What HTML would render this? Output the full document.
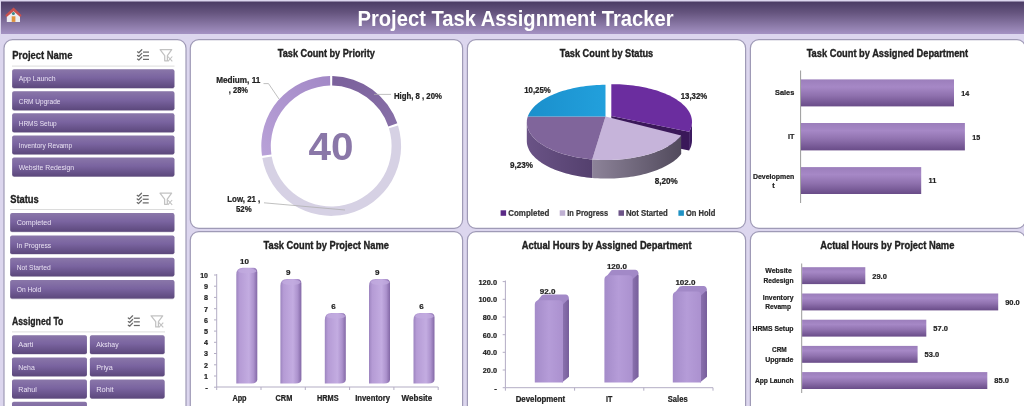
<!DOCTYPE html>
<html><head><meta charset="utf-8"><title>Project Task Assignment Tracker</title>
<style>html,body{margin:0;padding:0;background:#dcd6ee;overflow:hidden;width:1024px;height:406px;position:relative}svg{display:block}</style></head>
<body><svg style="filter:blur(0.5px);position:absolute;left:-8px;top:-8px" width="1040" height="422" viewBox="-8 -8 1040 422">
<defs>
<linearGradient id="hdr" x1="0" y1="0" x2="0" y2="1"><stop offset="0" stop-color="#4a3b64"/><stop offset="0.35" stop-color="#66557f"/><stop offset="1" stop-color="#a492c3"/></linearGradient>
<linearGradient id="btn" x1="0" y1="0" x2="0" y2="1"><stop offset="0" stop-color="#8a77a9"/><stop offset="0.45" stop-color="#7a64a0"/><stop offset="1" stop-color="#5c487c"/></linearGradient>
<linearGradient id="hbar" x1="0" y1="0" x2="0" y2="1"><stop offset="0" stop-color="#9b7ebb"/><stop offset="0.28" stop-color="#a688c6"/><stop offset="0.6" stop-color="#8f71ae"/><stop offset="1" stop-color="#694c88"/></linearGradient>
<linearGradient id="cyl" x1="0" y1="0" x2="1" y2="0"><stop offset="0" stop-color="#9c84bf"/><stop offset="0.15" stop-color="#b59bd5"/><stop offset="0.6" stop-color="#c3ace1"/><stop offset="0.82" stop-color="#ac92cd"/><stop offset="1" stop-color="#8368a6"/></linearGradient>
<linearGradient id="boxf" x1="0" y1="0" x2="1" y2="0"><stop offset="0" stop-color="#a48bc9"/><stop offset="0.5" stop-color="#b59cd8"/><stop offset="1" stop-color="#ab91cf"/></linearGradient>
<linearGradient id="boxs" x1="0" y1="0" x2="1" y2="0"><stop offset="0" stop-color="#8d74b1"/><stop offset="1" stop-color="#775e9b"/></linearGradient>
<linearGradient id="wallNS" x1="0" y1="0" x2="1" y2="0"><stop offset="0" stop-color="#6a5386"/><stop offset="1" stop-color="#54406e"/></linearGradient>
<linearGradient id="wallIP" x1="0" y1="0" x2="1" y2="0"><stop offset="0" stop-color="#8d8399"/><stop offset="1" stop-color="#514a5c"/></linearGradient>
<linearGradient id="blue" x1="0" y1="0" x2="1" y2="0"><stop offset="0" stop-color="#1a8fcc"/><stop offset="1" stop-color="#22a0dc"/></linearGradient>
<linearGradient id="dHigh" x1="0" y1="0" x2="1" y2="1"><stop offset="0" stop-color="#7a609b"/><stop offset="1" stop-color="#8870a8"/></linearGradient>
<linearGradient id="dMed" x1="0" y1="1" x2="1" y2="0"><stop offset="0" stop-color="#b9a2d8"/><stop offset="1" stop-color="#a288c6"/></linearGradient>
</defs>
<rect x="-10" y="-10" width="1044" height="426" fill="#dcd6ee"/>
<rect x="1" y="1.5" width="1044" height="32.5" fill="url(#hdr)"/>
<text x="515.50" y="25.70" font-family="Liberation Sans, sans-serif" font-size="21.5" font-weight="bold" fill="#ffffff" text-anchor="middle" textLength="316.00" lengthAdjust="spacingAndGlyphs" >Project Task Assignment Tracker</text>
<g>
<path d="M6.8 15.3 L13.6 9.3 L20 15.3 V21.9 H6.8 Z" fill="#ececf0"/>
<path d="M5.2 15.3 L13.6 7.4 L21.6 15.3 L20.2 17.1 L13.6 11.3 L6.7 17.1 Z" fill="#c9514d"/>
<rect x="11.7" y="16.3" width="3.7" height="5.6" fill="#e0913c"/>
<circle cx="13.4" cy="13.4" r="1.5" fill="#3b8888"/>
</g>
<rect x="4" y="39.7" width="182" height="380.3" rx="8.5" ry="8.5" fill="#ffffff" stroke="#9f9ab6" stroke-width="1.2"/>
<rect x="190.3" y="39.7" width="272.3" height="188.60000000000002" rx="8.5" ry="8.5" fill="#ffffff" stroke="#9f9ab6" stroke-width="1.2"/>
<rect x="467.4" y="39.7" width="278.20000000000005" height="188.60000000000002" rx="8.5" ry="8.5" fill="#ffffff" stroke="#9f9ab6" stroke-width="1.2"/>
<rect x="750.4" y="39.7" width="275.1" height="188.60000000000002" rx="8.5" ry="8.5" fill="#ffffff" stroke="#9f9ab6" stroke-width="1.2"/>
<rect x="190.3" y="231.7" width="272.3" height="188.3" rx="8.5" ry="8.5" fill="#ffffff" stroke="#9f9ab6" stroke-width="1.2"/>
<rect x="467.4" y="231.7" width="278.20000000000005" height="188.3" rx="8.5" ry="8.5" fill="#ffffff" stroke="#9f9ab6" stroke-width="1.2"/>
<rect x="750.4" y="231.7" width="275.1" height="188.3" rx="8.5" ry="8.5" fill="#ffffff" stroke="#9f9ab6" stroke-width="1.2"/>
<text x="12.20" y="59.00" font-family="Liberation Sans, sans-serif" font-size="10.2" font-weight="bold" fill="#222" text-anchor="start" textLength="60.20" lengthAdjust="spacingAndGlyphs" stroke="#222" stroke-width="0.3">Project Name</text>
<path d="M12 66.1 H174.5" stroke="#dcdcdc" stroke-width="1"/>
<path d="M137.50 51.80 l1.3 1.0 l3.0 -3.1" fill="none" stroke="#6a6a6a" stroke-width="1.25" stroke-linecap="round" stroke-linejoin="round"/>
<path d="M143.00 52.10 h6" fill="none" stroke="#6a6a6a" stroke-width="1.25"/>
<path d="M137.50 55.45 l1.3 1.0 l3.0 -3.1" fill="none" stroke="#6a6a6a" stroke-width="1.25" stroke-linecap="round" stroke-linejoin="round"/>
<path d="M143.00 55.75 h6" fill="none" stroke="#6a6a6a" stroke-width="1.25"/>
<path d="M137.50 59.10 l1.3 1.0 l3.0 -3.1" fill="none" stroke="#6a6a6a" stroke-width="1.25" stroke-linecap="round" stroke-linejoin="round"/>
<path d="M143.00 59.40 h6" fill="none" stroke="#6a6a6a" stroke-width="1.25"/>
<path d="M160.10 49.70 h11.6 l-4.3 5.9 v5.2 h-2.7 v-5.2 Z" fill="none" stroke="#c2c2c2" stroke-width="1.25" stroke-linejoin="round"/>
<path d="M167.90 56.50 l4.4 4.8 m0 -4.8 l-4.4 4.8" fill="none" stroke="#c2c2c2" stroke-width="1.1"/>
<rect x="12.2" y="69.8" width="162.20000000000002" height="18.89999999999999" rx="1.8" fill="#4b3a66" opacity="0.35"/>
<rect x="12.2" y="69.2" width="162.20000000000002" height="18.89999999999999" rx="1.8" fill="url(#btn)"/>
<text x="18.70" y="81.45" font-family="Liberation Sans, sans-serif" font-size="7.2" font-weight="normal" fill="#e9e2f3" text-anchor="start" textLength="36.80" lengthAdjust="spacingAndGlyphs" >App Launch</text>
<rect x="12.2" y="91.87" width="162.20000000000002" height="18.900000000000006" rx="1.8" fill="#4b3a66" opacity="0.35"/>
<rect x="12.2" y="91.27000000000001" width="162.20000000000002" height="18.900000000000006" rx="1.8" fill="url(#btn)"/>
<text x="18.70" y="103.52" font-family="Liberation Sans, sans-serif" font-size="7.2" font-weight="normal" fill="#e9e2f3" text-anchor="start" textLength="41.70" lengthAdjust="spacingAndGlyphs" >CRM Upgrade</text>
<rect x="12.2" y="113.94" width="162.20000000000002" height="18.900000000000006" rx="1.8" fill="#4b3a66" opacity="0.35"/>
<rect x="12.2" y="113.34" width="162.20000000000002" height="18.900000000000006" rx="1.8" fill="url(#btn)"/>
<text x="18.70" y="125.59" font-family="Liberation Sans, sans-serif" font-size="7.2" font-weight="normal" fill="#e9e2f3" text-anchor="start" textLength="38.00" lengthAdjust="spacingAndGlyphs" >HRMS Setup</text>
<rect x="12.2" y="136.01000000000002" width="162.20000000000002" height="18.900000000000006" rx="1.8" fill="#4b3a66" opacity="0.35"/>
<rect x="12.2" y="135.41000000000003" width="162.20000000000002" height="18.900000000000006" rx="1.8" fill="url(#btn)"/>
<text x="18.70" y="147.66" font-family="Liberation Sans, sans-serif" font-size="7.2" font-weight="normal" fill="#e9e2f3" text-anchor="start" textLength="53.60" lengthAdjust="spacingAndGlyphs" >Inventory Revamp</text>
<rect x="12.2" y="158.08" width="162.20000000000002" height="18.900000000000006" rx="1.8" fill="#4b3a66" opacity="0.35"/>
<rect x="12.2" y="157.48000000000002" width="162.20000000000002" height="18.900000000000006" rx="1.8" fill="url(#btn)"/>
<text x="18.70" y="169.73" font-family="Liberation Sans, sans-serif" font-size="7.2" font-weight="normal" fill="#e9e2f3" text-anchor="start" textLength="55.50" lengthAdjust="spacingAndGlyphs" >Website Redesign</text>
<text x="10.20" y="202.60" font-family="Liberation Sans, sans-serif" font-size="10.2" font-weight="bold" fill="#222" text-anchor="start" textLength="28.60" lengthAdjust="spacingAndGlyphs" stroke="#222" stroke-width="0.3">Status</text>
<path d="M10 209.5 H174.5" stroke="#dcdcdc" stroke-width="1"/>
<path d="M137.20 195.30 l1.3 1.0 l3.0 -3.1" fill="none" stroke="#6a6a6a" stroke-width="1.25" stroke-linecap="round" stroke-linejoin="round"/>
<path d="M142.70 195.60 h6" fill="none" stroke="#6a6a6a" stroke-width="1.25"/>
<path d="M137.20 198.95 l1.3 1.0 l3.0 -3.1" fill="none" stroke="#6a6a6a" stroke-width="1.25" stroke-linecap="round" stroke-linejoin="round"/>
<path d="M142.70 199.25 h6" fill="none" stroke="#6a6a6a" stroke-width="1.25"/>
<path d="M137.20 202.60 l1.3 1.0 l3.0 -3.1" fill="none" stroke="#6a6a6a" stroke-width="1.25" stroke-linecap="round" stroke-linejoin="round"/>
<path d="M142.70 202.90 h6" fill="none" stroke="#6a6a6a" stroke-width="1.25"/>
<path d="M160.00 193.20 h11.6 l-4.3 5.9 v5.2 h-2.7 v-5.2 Z" fill="none" stroke="#c2c2c2" stroke-width="1.25" stroke-linejoin="round"/>
<path d="M167.80 200.00 l4.4 4.8 m0 -4.8 l-4.4 4.8" fill="none" stroke="#c2c2c2" stroke-width="1.1"/>
<rect x="10.2" y="213.7" width="164.20000000000002" height="18.599999999999994" rx="1.8" fill="#4b3a66" opacity="0.35"/>
<rect x="10.2" y="213.1" width="164.20000000000002" height="18.599999999999994" rx="1.8" fill="url(#btn)"/>
<text x="16.70" y="225.20" font-family="Liberation Sans, sans-serif" font-size="7.2" font-weight="normal" fill="#e9e2f3" text-anchor="start" textLength="34.50" lengthAdjust="spacingAndGlyphs" >Completed</text>
<rect x="10.2" y="236.0" width="164.20000000000002" height="18.599999999999994" rx="1.8" fill="#4b3a66" opacity="0.35"/>
<rect x="10.2" y="235.4" width="164.20000000000002" height="18.599999999999994" rx="1.8" fill="url(#btn)"/>
<text x="16.70" y="247.50" font-family="Liberation Sans, sans-serif" font-size="7.2" font-weight="normal" fill="#e9e2f3" text-anchor="start" textLength="34.50" lengthAdjust="spacingAndGlyphs" >In Progress</text>
<rect x="10.2" y="258.3" width="164.20000000000002" height="18.600000000000023" rx="1.8" fill="#4b3a66" opacity="0.35"/>
<rect x="10.2" y="257.7" width="164.20000000000002" height="18.600000000000023" rx="1.8" fill="url(#btn)"/>
<text x="16.70" y="269.80" font-family="Liberation Sans, sans-serif" font-size="7.2" font-weight="normal" fill="#e9e2f3" text-anchor="start" textLength="34.00" lengthAdjust="spacingAndGlyphs" >Not Started</text>
<rect x="10.2" y="280.6" width="164.20000000000002" height="18.600000000000023" rx="1.8" fill="#4b3a66" opacity="0.35"/>
<rect x="10.2" y="280.0" width="164.20000000000002" height="18.600000000000023" rx="1.8" fill="url(#btn)"/>
<text x="16.70" y="292.10" font-family="Liberation Sans, sans-serif" font-size="7.2" font-weight="normal" fill="#e9e2f3" text-anchor="start" textLength="24.50" lengthAdjust="spacingAndGlyphs" >On Hold</text>
<text x="12.00" y="325.30" font-family="Liberation Sans, sans-serif" font-size="10.2" font-weight="bold" fill="#222" text-anchor="start" textLength="51.40" lengthAdjust="spacingAndGlyphs" stroke="#222" stroke-width="0.3">Assigned To</text>
<path d="M12 331.9 H165" stroke="#dcdcdc" stroke-width="1"/>
<path d="M128.30 317.90 l1.3 1.0 l3.0 -3.1" fill="none" stroke="#6a6a6a" stroke-width="1.25" stroke-linecap="round" stroke-linejoin="round"/>
<path d="M133.80 318.20 h6" fill="none" stroke="#6a6a6a" stroke-width="1.25"/>
<path d="M128.30 321.55 l1.3 1.0 l3.0 -3.1" fill="none" stroke="#6a6a6a" stroke-width="1.25" stroke-linecap="round" stroke-linejoin="round"/>
<path d="M133.80 321.85 h6" fill="none" stroke="#6a6a6a" stroke-width="1.25"/>
<path d="M128.30 325.20 l1.3 1.0 l3.0 -3.1" fill="none" stroke="#6a6a6a" stroke-width="1.25" stroke-linecap="round" stroke-linejoin="round"/>
<path d="M133.80 325.50 h6" fill="none" stroke="#6a6a6a" stroke-width="1.25"/>
<path d="M151.10 315.80 h11.6 l-4.3 5.9 v5.2 h-2.7 v-5.2 Z" fill="none" stroke="#c2c2c2" stroke-width="1.25" stroke-linejoin="round"/>
<path d="M158.90 322.60 l4.4 4.8 m0 -4.8 l-4.4 4.8" fill="none" stroke="#c2c2c2" stroke-width="1.1"/>
<rect x="12" y="335.8" width="74.9" height="18.80000000000001" rx="1.8" fill="#4b3a66" opacity="0.35"/>
<rect x="12" y="335.2" width="74.9" height="18.80000000000001" rx="1.8" fill="url(#btn)"/>
<text x="18.30" y="347.40" font-family="Liberation Sans, sans-serif" font-size="7.2" font-weight="normal" fill="#e9e2f3" text-anchor="start" textLength="15.00" lengthAdjust="spacingAndGlyphs" >Aarti</text>
<rect x="89.9" y="335.8" width="74.69999999999999" height="18.80000000000001" rx="1.8" fill="#4b3a66" opacity="0.35"/>
<rect x="89.9" y="335.2" width="74.69999999999999" height="18.80000000000001" rx="1.8" fill="url(#btn)"/>
<text x="96.20" y="347.40" font-family="Liberation Sans, sans-serif" font-size="7.2" font-weight="normal" fill="#e9e2f3" text-anchor="start" textLength="22.40" lengthAdjust="spacingAndGlyphs" >Akshay</text>
<rect x="12" y="358.0" width="74.9" height="18.80000000000001" rx="1.8" fill="#4b3a66" opacity="0.35"/>
<rect x="12" y="357.4" width="74.9" height="18.80000000000001" rx="1.8" fill="url(#btn)"/>
<text x="18.30" y="369.60" font-family="Liberation Sans, sans-serif" font-size="7.2" font-weight="normal" fill="#e9e2f3" text-anchor="start" textLength="16.50" lengthAdjust="spacingAndGlyphs" >Neha</text>
<rect x="89.9" y="358.0" width="74.69999999999999" height="18.80000000000001" rx="1.8" fill="#4b3a66" opacity="0.35"/>
<rect x="89.9" y="357.4" width="74.69999999999999" height="18.80000000000001" rx="1.8" fill="url(#btn)"/>
<text x="96.20" y="369.60" font-family="Liberation Sans, sans-serif" font-size="7.2" font-weight="normal" fill="#e9e2f3" text-anchor="start" textLength="16.50" lengthAdjust="spacingAndGlyphs" >Priya</text>
<rect x="12" y="380.2" width="74.9" height="18.80000000000001" rx="1.8" fill="#4b3a66" opacity="0.35"/>
<rect x="12" y="379.59999999999997" width="74.9" height="18.80000000000001" rx="1.8" fill="url(#btn)"/>
<text x="18.30" y="391.80" font-family="Liberation Sans, sans-serif" font-size="7.2" font-weight="normal" fill="#e9e2f3" text-anchor="start" textLength="18.50" lengthAdjust="spacingAndGlyphs" >Rahul</text>
<rect x="89.9" y="380.2" width="74.69999999999999" height="18.80000000000001" rx="1.8" fill="#4b3a66" opacity="0.35"/>
<rect x="89.9" y="379.59999999999997" width="74.69999999999999" height="18.80000000000001" rx="1.8" fill="url(#btn)"/>
<text x="96.20" y="391.80" font-family="Liberation Sans, sans-serif" font-size="7.2" font-weight="normal" fill="#e9e2f3" text-anchor="start" textLength="17.50" lengthAdjust="spacingAndGlyphs" >Rohit</text>
<rect x="12" y="402.4" width="74.9" height="18.80000000000001" rx="1.8" fill="#4b3a66" opacity="0.35"/>
<rect x="12" y="401.79999999999995" width="74.9" height="18.80000000000001" rx="1.8" fill="url(#btn)"/>
<text x="18.30" y="414.00" font-family="Liberation Sans, sans-serif" font-size="7.2" font-weight="normal" fill="#e9e2f3" text-anchor="start" ></text>
<text x="326.30" y="57.10" font-family="Liberation Sans, sans-serif" font-size="10.2" font-weight="bold" fill="#222" text-anchor="middle" textLength="97.00" lengthAdjust="spacingAndGlyphs" stroke="#222" stroke-width="0.35">Task Count by Priority</text>
<text x="606.50" y="57.00" font-family="Liberation Sans, sans-serif" font-size="10.2" font-weight="bold" fill="#222" text-anchor="middle" textLength="93.50" lengthAdjust="spacingAndGlyphs" stroke="#222" stroke-width="0.35">Task Count by Status</text>
<text x="887.40" y="57.10" font-family="Liberation Sans, sans-serif" font-size="10.2" font-weight="bold" fill="#222" text-anchor="middle" textLength="161.50" lengthAdjust="spacingAndGlyphs" stroke="#222" stroke-width="0.35">Task Count by Assigned Department</text>
<text x="326.20" y="248.60" font-family="Liberation Sans, sans-serif" font-size="10.2" font-weight="bold" fill="#222" text-anchor="middle" textLength="125.30" lengthAdjust="spacingAndGlyphs" stroke="#222" stroke-width="0.35">Task Count by Project Name</text>
<text x="606.70" y="248.90" font-family="Liberation Sans, sans-serif" font-size="10.2" font-weight="bold" fill="#222" text-anchor="middle" textLength="169.90" lengthAdjust="spacingAndGlyphs" stroke="#222" stroke-width="0.35">Actual Hours by Assigned Department</text>
<text x="887.30" y="248.60" font-family="Liberation Sans, sans-serif" font-size="10.2" font-weight="bold" fill="#222" text-anchor="middle" textLength="134.10" lengthAdjust="spacingAndGlyphs" stroke="#222" stroke-width="0.35">Actual Hours by Project Name</text>
<path d="M332.30 76.11 A69.9 69.9 0 0 1 397.33 123.36 L388.34 126.44 A60.4 60.4 0 0 0 332.15 85.61 Z" fill="url(#dHigh)"/>
<path d="M398.01 125.45 A69.9 69.9 0 1 1 262.34 158.02 L271.70 156.38 A60.4 60.4 0 1 0 388.93 128.24 Z" fill="#d6d1e4"/>
<path d="M262.00 155.85 A69.9 69.9 0 0 1 330.10 76.11 L330.25 85.61 A60.4 60.4 0 0 0 271.40 154.51 Z" fill="url(#dMed)"/>
<text x="331.00" y="159.60" font-family="Liberation Sans, sans-serif" font-size="39" font-weight="bold" fill="#8a77a8" text-anchor="middle" textLength="45.00" lengthAdjust="spacingAndGlyphs" >40</text>
<path d="M263.5 83.6 H268.5 L279 99" fill="none" stroke="#b0b0b0" stroke-width="0.8"/>
<path d="M374 94.4 H391" fill="none" stroke="#b0b0b0" stroke-width="0.8"/>
<path d="M264 202.8 L345 210" fill="none" stroke="#b0b0b0" stroke-width="0.8"/>
<text x="216.20" y="82.60" font-family="Liberation Sans, sans-serif" font-size="8.6" font-weight="bold" fill="#222" text-anchor="start" textLength="44.10" lengthAdjust="spacingAndGlyphs" stroke="#222" stroke-width="0.22">Medium, 11</text>
<text x="228.80" y="93.40" font-family="Liberation Sans, sans-serif" font-size="8.6" font-weight="bold" fill="#222" text-anchor="start" textLength="19.20" lengthAdjust="spacingAndGlyphs" stroke="#222" stroke-width="0.22">, 28%</text>
<text x="393.90" y="98.60" font-family="Liberation Sans, sans-serif" font-size="8.6" font-weight="bold" fill="#222" text-anchor="start" textLength="48.00" lengthAdjust="spacingAndGlyphs" stroke="#222" stroke-width="0.22">High, 8 , 20%</text>
<text x="227.30" y="201.50" font-family="Liberation Sans, sans-serif" font-size="8.6" font-weight="bold" fill="#222" text-anchor="start" textLength="33.00" lengthAdjust="spacingAndGlyphs" stroke="#222" stroke-width="0.22">Low, 21 ,</text>
<text x="236.00" y="211.90" font-family="Liberation Sans, sans-serif" font-size="8.6" font-weight="bold" fill="#222" text-anchor="start" textLength="15.60" lengthAdjust="spacingAndGlyphs" stroke="#222" stroke-width="0.22">52%</text>
<path d="M692.00 121.80 L691.95 123.11 L691.81 124.42 L691.56 125.73 L691.22 127.03 L690.79 128.33 L690.26 129.62 L689.63 130.90 L689.10 131.85 L689.10 150.45 L689.63 149.50 L690.26 148.22 L690.79 146.93 L691.22 145.63 L691.56 144.33 L691.81 143.02 L691.95 141.71 L692.00 140.40 Z" fill="#3c1a60" />
<path d="M611.30 115.90 L689.10 131.85 L689.10 150.45 L611.30 134.50 Z" fill="#3a1859" />
<path d="M611.30 115.90 L611.30 84.20 L614.08 84.21 L616.86 84.26 L619.64 84.36 L622.40 84.50 L625.15 84.69 L627.89 84.93 L630.61 85.21 L633.31 85.53 L635.98 85.90 L638.62 86.31 L641.23 86.76 L643.80 87.26 L646.34 87.80 L648.83 88.38 L651.28 89.00 L653.68 89.67 L656.04 90.37 L658.33 91.11 L660.58 91.88 L662.76 92.70 L664.88 93.54 L666.94 94.43 L668.93 95.34 L670.85 96.29 L672.71 97.27 L674.48 98.28 L676.19 99.32 L677.81 100.38 L679.35 101.48 L680.82 102.59 L682.20 103.73 L683.49 104.89 L684.70 106.08 L685.82 107.28 L686.85 108.50 L687.78 109.73 L688.63 110.98 L689.38 112.25 L690.04 113.52 L690.61 114.81 L691.08 116.10 L691.45 117.40 L691.73 118.71 L691.91 120.02 L691.99 121.33 L691.98 122.64 L691.87 123.95 L691.66 125.26 L691.36 126.57 L690.96 127.86 L690.46 129.16 L689.87 130.44 L689.18 131.71 L689.10 131.85 Z" fill="#6b2d9f" />
<path d="M681.20 135.51 L680.18 136.73 L679.08 137.93 L677.89 139.12 L676.61 140.29 L675.24 141.43 L673.79 142.55 L672.26 143.64 L670.65 144.71 L668.96 145.76 L667.19 146.77 L665.35 147.76 L663.44 148.71 L661.46 149.63 L659.41 150.52 L657.30 151.37 L655.13 152.19 L652.89 152.97 L650.60 153.72 L648.26 154.43 L645.86 155.09 L643.42 155.72 L640.93 156.31 L638.40 156.86 L635.84 157.36 L633.23 157.82 L630.60 158.24 L627.93 158.62 L625.24 158.95 L622.52 159.23 L619.79 159.47 L617.04 159.67 L614.27 159.82 L611.50 159.93 L608.72 159.99 L605.94 160.00 L603.16 159.97 L600.38 159.89 L597.61 159.77 L594.85 159.60 L592.20 159.39 L592.20 177.99 L594.85 178.20 L597.61 178.37 L600.38 178.49 L603.16 178.57 L605.94 178.60 L608.72 178.59 L611.50 178.53 L614.27 178.42 L617.04 178.27 L619.79 178.07 L622.52 177.83 L625.24 177.55 L627.93 177.22 L630.60 176.84 L633.23 176.42 L635.84 175.96 L638.40 175.46 L640.93 174.91 L643.42 174.32 L645.86 173.69 L648.26 173.03 L650.60 172.32 L652.89 171.57 L655.13 170.79 L657.30 169.97 L659.41 169.12 L661.46 168.23 L663.44 167.31 L665.35 166.36 L667.19 165.37 L668.96 164.36 L670.65 163.31 L672.26 162.24 L673.79 161.15 L675.24 160.03 L676.61 158.89 L677.89 157.72 L679.08 156.53 L680.18 155.33 L681.20 154.11 Z" fill="url(#wallIP)" />
<path d="M592.20 159.39 L589.47 159.13 L586.77 158.83 L584.08 158.48 L581.43 158.09 L578.80 157.66 L576.21 157.18 L573.66 156.66 L571.14 156.10 L568.67 155.49 L566.25 154.85 L563.87 154.17 L561.55 153.45 L559.28 152.69 L557.06 151.89 L554.91 151.06 L552.82 150.19 L550.80 149.29 L548.84 148.36 L546.96 147.39 L545.15 146.40 L543.41 145.37 L541.75 144.32 L540.17 143.24 L538.66 142.14 L537.25 141.01 L535.91 139.86 L534.66 138.68 L533.50 137.49 L532.43 136.28 L531.45 135.05 L530.56 133.81 L529.76 132.55 L529.06 131.28 L528.45 130.00 L527.93 128.71 L527.51 127.41 L527.19 126.11 L526.96 124.80 L526.83 123.49 L526.80 122.40 L526.80 141.00 L526.83 142.09 L526.96 143.40 L527.19 144.71 L527.51 146.01 L527.93 147.31 L528.45 148.60 L529.06 149.88 L529.76 151.15 L530.56 152.41 L531.45 153.65 L532.43 154.88 L533.50 156.09 L534.66 157.28 L535.91 158.46 L537.25 159.61 L538.66 160.74 L540.17 161.84 L541.75 162.92 L543.41 163.97 L545.15 165.00 L546.96 165.99 L548.84 166.96 L550.80 167.89 L552.82 168.79 L554.91 169.66 L557.06 170.49 L559.28 171.29 L561.55 172.05 L563.87 172.77 L566.25 173.45 L568.67 174.09 L571.14 174.70 L573.66 175.26 L576.21 175.78 L578.80 176.26 L581.43 176.69 L584.08 177.08 L586.77 177.43 L589.47 177.73 L592.20 177.99 Z" fill="url(#wallNS)" />
<path d="M605.50 116.50 L681.20 135.51 L680.18 136.73 L679.08 137.93 L677.89 139.12 L676.61 140.29 L675.24 141.43 L673.79 142.55 L672.26 143.64 L670.65 144.71 L668.96 145.76 L667.19 146.77 L665.35 147.76 L663.44 148.71 L661.46 149.63 L659.41 150.52 L657.30 151.37 L655.13 152.19 L652.89 152.97 L650.60 153.72 L648.26 154.43 L645.86 155.09 L643.42 155.72 L640.93 156.31 L638.40 156.86 L635.84 157.36 L633.23 157.82 L630.60 158.24 L627.93 158.62 L625.24 158.95 L622.52 159.23 L619.79 159.47 L617.04 159.67 L614.27 159.82 L611.50 159.93 L608.72 159.99 L605.94 160.00 L603.16 159.97 L600.38 159.89 L597.61 159.77 L594.85 159.60 L592.20 159.39 Z" fill="#c6b4da" />
<path d="M605.50 116.50 L592.20 159.39 L589.47 159.13 L586.77 158.83 L584.08 158.48 L581.43 158.09 L578.80 157.66 L576.21 157.18 L573.66 156.66 L571.14 156.10 L568.67 155.49 L566.25 154.85 L563.87 154.17 L561.55 153.45 L559.28 152.69 L557.06 151.89 L554.91 151.06 L552.82 150.19 L550.80 149.29 L548.84 148.36 L546.96 147.39 L545.15 146.40 L543.41 145.37 L541.75 144.32 L540.17 143.24 L538.66 142.14 L537.25 141.01 L535.91 139.86 L534.66 138.68 L533.50 137.49 L532.43 136.28 L531.45 135.05 L530.56 133.81 L529.76 132.55 L529.06 131.28 L528.45 130.00 L527.93 128.71 L527.51 127.41 L527.19 126.11 L526.96 124.80 L526.83 123.49 L526.80 122.18 L526.87 120.87 L527.03 119.56 L527.29 118.25 L527.64 116.95 L527.79 116.50 Z" fill="#80659b" />
<path d="M605.50 116.50 L527.79 116.50 L528.27 115.21 L528.85 113.92 L529.53 112.65 L530.29 111.39 L531.15 110.14 L532.11 108.91 L533.15 107.69 L534.28 106.49 L535.50 105.31 L536.81 104.16 L538.20 103.02 L539.68 101.91 L541.24 100.82 L542.87 99.76 L544.59 98.72 L546.38 97.72 L548.24 96.74 L550.17 95.80 L552.17 94.89 L554.24 94.01 L556.37 93.17 L558.57 92.36 L560.82 91.59 L563.12 90.86 L565.48 90.16 L567.89 89.51 L570.35 88.89 L572.85 88.32 L575.39 87.78 L577.97 87.29 L580.59 86.84 L583.24 86.44 L585.91 86.08 L588.61 85.76 L591.33 85.49 L594.07 85.26 L596.83 85.08 L599.59 84.94 L602.37 84.85 L605.15 84.81 L605.50 84.80 Z" fill="url(#blue)" />
<text x="524.20" y="92.80" font-family="Liberation Sans, sans-serif" font-size="8.4" font-weight="bold" fill="#222" text-anchor="start" textLength="26.50" lengthAdjust="spacingAndGlyphs" stroke="#222" stroke-width="0.22">10,25%</text>
<text x="680.70" y="98.50" font-family="Liberation Sans, sans-serif" font-size="8.4" font-weight="bold" fill="#222" text-anchor="start" textLength="26.50" lengthAdjust="spacingAndGlyphs" stroke="#222" stroke-width="0.22">13,32%</text>
<text x="510.00" y="168.20" font-family="Liberation Sans, sans-serif" font-size="8.4" font-weight="bold" fill="#222" text-anchor="start" textLength="23.00" lengthAdjust="spacingAndGlyphs" stroke="#222" stroke-width="0.22">9,23%</text>
<text x="654.80" y="184.40" font-family="Liberation Sans, sans-serif" font-size="8.4" font-weight="bold" fill="#222" text-anchor="start" textLength="23.00" lengthAdjust="spacingAndGlyphs" stroke="#222" stroke-width="0.22">8,20%</text>
<rect x="500.6" y="210.3" width="5.5" height="5.5" fill="#5b2a86"/>
<text x="508.30" y="216.30" font-family="Liberation Sans, sans-serif" font-size="8.8" font-weight="bold" fill="#333" text-anchor="start" textLength="41.00" lengthAdjust="spacingAndGlyphs" stroke="#333" stroke-width="0.22">Completed</text>
<rect x="559.7" y="210.3" width="5.5" height="5.5" fill="#bfb0d2"/>
<text x="567.30" y="216.30" font-family="Liberation Sans, sans-serif" font-size="8.8" font-weight="bold" fill="#333" text-anchor="start" textLength="40.80" lengthAdjust="spacingAndGlyphs" stroke="#333" stroke-width="0.22">In Progress</text>
<rect x="618.5" y="210.3" width="5.5" height="5.5" fill="#6d5488"/>
<text x="625.90" y="216.30" font-family="Liberation Sans, sans-serif" font-size="8.8" font-weight="bold" fill="#333" text-anchor="start" textLength="41.80" lengthAdjust="spacingAndGlyphs" stroke="#333" stroke-width="0.22">Not Started</text>
<rect x="678.4" y="210.3" width="5.5" height="5.5" fill="#1f92c4"/>
<text x="686.00" y="216.30" font-family="Liberation Sans, sans-serif" font-size="8.8" font-weight="bold" fill="#333" text-anchor="start" textLength="29.30" lengthAdjust="spacingAndGlyphs" stroke="#333" stroke-width="0.22">On Hold</text>
<path d="M800.6 70.5 V203" stroke="#8f8f8f" stroke-width="0.9"/>
<rect x="801" y="79.4" width="153.0" height="27.0" fill="url(#hbar)"/>
<text x="961.37" y="95.80" font-family="Liberation Sans, sans-serif" font-size="8" font-weight="bold" fill="#222" text-anchor="start" textLength="7.90" lengthAdjust="spacingAndGlyphs" stroke="#222" stroke-width="0.22">14</text>
<rect x="801" y="123" width="163.9" height="27.4" fill="url(#hbar)"/>
<text x="972.30" y="139.60" font-family="Liberation Sans, sans-serif" font-size="8" font-weight="bold" fill="#222" text-anchor="start" textLength="7.90" lengthAdjust="spacingAndGlyphs" stroke="#222" stroke-width="0.22">15</text>
<rect x="801" y="167.1" width="120.2" height="26.9" fill="url(#hbar)"/>
<text x="928.59" y="183.45" font-family="Liberation Sans, sans-serif" font-size="8" font-weight="bold" fill="#222" text-anchor="start" textLength="7.90" lengthAdjust="spacingAndGlyphs" stroke="#222" stroke-width="0.22">11</text>
<text x="794.30" y="95.10" font-family="Liberation Sans, sans-serif" font-size="7.4" font-weight="bold" fill="#222" text-anchor="end" textLength="19.20" lengthAdjust="spacingAndGlyphs" stroke="#222" stroke-width="0.22">Sales</text>
<text x="794.30" y="139.40" font-family="Liberation Sans, sans-serif" font-size="7.4" font-weight="bold" fill="#222" text-anchor="end" textLength="6.30" lengthAdjust="spacingAndGlyphs" stroke="#222" stroke-width="0.22">IT</text>
<text x="773.60" y="179.00" font-family="Liberation Sans, sans-serif" font-size="7.4" font-weight="bold" fill="#222" text-anchor="middle" textLength="41.30" lengthAdjust="spacingAndGlyphs" stroke="#222" stroke-width="0.22">Developmen</text>
<text x="773.60" y="188.20" font-family="Liberation Sans, sans-serif" font-size="7.4" font-weight="bold" fill="#222" text-anchor="middle" stroke="#222" stroke-width="0.22">t</text>
<path d="M216.7 274 V387 H438.2" fill="none" stroke="#b3adc4" stroke-width="1"/>
<path d="M216.7 387 v3" stroke="#b3adc4" stroke-width="1"/>
<path d="M261.0 387 v3" stroke="#b3adc4" stroke-width="1"/>
<path d="M305.3 387 v3" stroke="#b3adc4" stroke-width="1"/>
<path d="M349.6 387 v3" stroke="#b3adc4" stroke-width="1"/>
<path d="M393.9 387 v3" stroke="#b3adc4" stroke-width="1"/>
<path d="M438.2 387 v3" stroke="#b3adc4" stroke-width="1"/>
<path d="M214 387.2 h2.7" stroke="#b3adc4" stroke-width="1"/>
<text x="208.00" y="390.10" font-family="Liberation Sans, sans-serif" font-size="8" font-weight="bold" fill="#222" text-anchor="end" stroke="#222" stroke-width="0.22">-</text>
<path d="M214 376.0 h2.7" stroke="#b3adc4" stroke-width="1"/>
<text x="208.00" y="378.88" font-family="Liberation Sans, sans-serif" font-size="8" font-weight="bold" fill="#222" text-anchor="end" textLength="4.00" lengthAdjust="spacingAndGlyphs" stroke="#222" stroke-width="0.22">1</text>
<path d="M214 364.8 h2.7" stroke="#b3adc4" stroke-width="1"/>
<text x="208.00" y="367.66" font-family="Liberation Sans, sans-serif" font-size="8" font-weight="bold" fill="#222" text-anchor="end" textLength="4.00" lengthAdjust="spacingAndGlyphs" stroke="#222" stroke-width="0.22">2</text>
<path d="M214 353.5 h2.7" stroke="#b3adc4" stroke-width="1"/>
<text x="208.00" y="356.44" font-family="Liberation Sans, sans-serif" font-size="8" font-weight="bold" fill="#222" text-anchor="end" textLength="4.00" lengthAdjust="spacingAndGlyphs" stroke="#222" stroke-width="0.22">3</text>
<path d="M214 342.3 h2.7" stroke="#b3adc4" stroke-width="1"/>
<text x="208.00" y="345.22" font-family="Liberation Sans, sans-serif" font-size="8" font-weight="bold" fill="#222" text-anchor="end" textLength="4.00" lengthAdjust="spacingAndGlyphs" stroke="#222" stroke-width="0.22">4</text>
<path d="M214 331.1 h2.7" stroke="#b3adc4" stroke-width="1"/>
<text x="208.00" y="334.00" font-family="Liberation Sans, sans-serif" font-size="8" font-weight="bold" fill="#222" text-anchor="end" textLength="4.00" lengthAdjust="spacingAndGlyphs" stroke="#222" stroke-width="0.22">5</text>
<path d="M214 319.9 h2.7" stroke="#b3adc4" stroke-width="1"/>
<text x="208.00" y="322.78" font-family="Liberation Sans, sans-serif" font-size="8" font-weight="bold" fill="#222" text-anchor="end" textLength="4.00" lengthAdjust="spacingAndGlyphs" stroke="#222" stroke-width="0.22">6</text>
<path d="M214 308.7 h2.7" stroke="#b3adc4" stroke-width="1"/>
<text x="208.00" y="311.56" font-family="Liberation Sans, sans-serif" font-size="8" font-weight="bold" fill="#222" text-anchor="end" textLength="4.00" lengthAdjust="spacingAndGlyphs" stroke="#222" stroke-width="0.22">7</text>
<path d="M214 297.4 h2.7" stroke="#b3adc4" stroke-width="1"/>
<text x="208.00" y="300.34" font-family="Liberation Sans, sans-serif" font-size="8" font-weight="bold" fill="#222" text-anchor="end" textLength="4.00" lengthAdjust="spacingAndGlyphs" stroke="#222" stroke-width="0.22">8</text>
<path d="M214 286.2 h2.7" stroke="#b3adc4" stroke-width="1"/>
<text x="208.00" y="289.12" font-family="Liberation Sans, sans-serif" font-size="8" font-weight="bold" fill="#222" text-anchor="end" textLength="4.00" lengthAdjust="spacingAndGlyphs" stroke="#222" stroke-width="0.22">9</text>
<path d="M214 275.0 h2.7" stroke="#b3adc4" stroke-width="1"/>
<text x="208.00" y="277.90" font-family="Liberation Sans, sans-serif" font-size="8" font-weight="bold" fill="#222" text-anchor="end" textLength="7.80" lengthAdjust="spacingAndGlyphs" stroke="#222" stroke-width="0.22">10</text>
<path d="M236.3 383.4 V274.8 Q236.3 267.8 242.8 267.8 H253.3 Q257.3 267.8 257.3 272.3 V379.5 Q257.3 383.4 251.3 383.4 Z" fill="url(#cyl)"/>
<ellipse cx="247.3" cy="271.0" rx="9.3" ry="2.6" fill="#c2abdf" opacity="0.75"/>
<text x="244.40" y="263.80" font-family="Liberation Sans, sans-serif" font-size="8" font-weight="bold" fill="#222" text-anchor="middle" stroke="#222" stroke-width="0.22">10</text>
<text x="239.45" y="400.90" font-family="Liberation Sans, sans-serif" font-size="8.2" font-weight="bold" fill="#222" text-anchor="middle" textLength="14.10" lengthAdjust="spacingAndGlyphs" stroke="#222" stroke-width="0.22">App</text>
<path d="M280.4 383.4 V286.1 Q280.4 279.1 286.9 279.1 H297.4 Q301.4 279.1 301.4 283.6 V379.5 Q301.4 383.4 295.4 383.4 Z" fill="url(#cyl)"/>
<ellipse cx="291.4" cy="282.3" rx="9.3" ry="2.6" fill="#c2abdf" opacity="0.75"/>
<text x="288.20" y="275.10" font-family="Liberation Sans, sans-serif" font-size="8" font-weight="bold" fill="#222" text-anchor="middle" stroke="#222" stroke-width="0.22">9</text>
<text x="283.90" y="400.90" font-family="Liberation Sans, sans-serif" font-size="8.2" font-weight="bold" fill="#222" text-anchor="middle" textLength="16.80" lengthAdjust="spacingAndGlyphs" stroke="#222" stroke-width="0.22">CRM</text>
<path d="M324.8 383.4 V320.0 Q324.8 313.0 331.3 313.0 H341.8 Q345.8 313.0 345.8 317.5 V379.5 Q345.8 383.4 339.8 383.4 Z" fill="url(#cyl)"/>
<ellipse cx="335.8" cy="316.2" rx="9.3" ry="2.6" fill="#c2abdf" opacity="0.75"/>
<text x="333.60" y="309.00" font-family="Liberation Sans, sans-serif" font-size="8" font-weight="bold" fill="#222" text-anchor="middle" stroke="#222" stroke-width="0.22">6</text>
<text x="327.80" y="400.90" font-family="Liberation Sans, sans-serif" font-size="8.2" font-weight="bold" fill="#222" text-anchor="middle" textLength="21.60" lengthAdjust="spacingAndGlyphs" stroke="#222" stroke-width="0.22">HRMS</text>
<path d="M369 383.4 V286.1 Q369 279.1 375.5 279.1 H386 Q390 279.1 390 283.6 V379.5 Q390 383.4 384 383.4 Z" fill="url(#cyl)"/>
<ellipse cx="380.0" cy="282.3" rx="9.3" ry="2.6" fill="#c2abdf" opacity="0.75"/>
<text x="377.30" y="275.10" font-family="Liberation Sans, sans-serif" font-size="8" font-weight="bold" fill="#222" text-anchor="middle" stroke="#222" stroke-width="0.22">9</text>
<text x="372.60" y="400.90" font-family="Liberation Sans, sans-serif" font-size="8.2" font-weight="bold" fill="#222" text-anchor="middle" textLength="34.80" lengthAdjust="spacingAndGlyphs" stroke="#222" stroke-width="0.22">Inventory</text>
<path d="M413.5 383.4 V320.0 Q413.5 313.0 420.0 313.0 H430.5 Q434.5 313.0 434.5 317.5 V379.5 Q434.5 383.4 428.5 383.4 Z" fill="url(#cyl)"/>
<ellipse cx="424.5" cy="316.2" rx="9.3" ry="2.6" fill="#c2abdf" opacity="0.75"/>
<text x="421.40" y="309.00" font-family="Liberation Sans, sans-serif" font-size="8" font-weight="bold" fill="#222" text-anchor="middle" stroke="#222" stroke-width="0.22">6</text>
<text x="416.90" y="400.90" font-family="Liberation Sans, sans-serif" font-size="8.2" font-weight="bold" fill="#222" text-anchor="middle" textLength="30.80" lengthAdjust="spacingAndGlyphs" stroke="#222" stroke-width="0.22">Website</text>
<path d="M505.4 280.5 V387.7 H713" fill="none" stroke="#b3adc4" stroke-width="1"/>
<path d="M505.4 387.7 v3" stroke="#b3adc4" stroke-width="1"/>
<path d="M574.6 387.7 v3" stroke="#b3adc4" stroke-width="1"/>
<path d="M643.8 387.7 v3" stroke="#b3adc4" stroke-width="1"/>
<path d="M713.0 387.7 v3" stroke="#b3adc4" stroke-width="1"/>
<path d="M502.7 387.7 h2.7" stroke="#b3adc4" stroke-width="1"/>
<text x="497.00" y="390.60" font-family="Liberation Sans, sans-serif" font-size="8" font-weight="bold" fill="#222" text-anchor="end" stroke="#222" stroke-width="0.22">-</text>
<path d="M502.7 370.0 h2.7" stroke="#b3adc4" stroke-width="1"/>
<text x="497.00" y="372.92" font-family="Liberation Sans, sans-serif" font-size="8" font-weight="bold" fill="#222" text-anchor="end" textLength="14.20" lengthAdjust="spacingAndGlyphs" stroke="#222" stroke-width="0.22">20.0</text>
<path d="M502.7 352.3 h2.7" stroke="#b3adc4" stroke-width="1"/>
<text x="497.00" y="355.24" font-family="Liberation Sans, sans-serif" font-size="8" font-weight="bold" fill="#222" text-anchor="end" textLength="14.20" lengthAdjust="spacingAndGlyphs" stroke="#222" stroke-width="0.22">40.0</text>
<path d="M502.7 334.7 h2.7" stroke="#b3adc4" stroke-width="1"/>
<text x="497.00" y="337.56" font-family="Liberation Sans, sans-serif" font-size="8" font-weight="bold" fill="#222" text-anchor="end" textLength="14.20" lengthAdjust="spacingAndGlyphs" stroke="#222" stroke-width="0.22">60.0</text>
<path d="M502.7 317.0 h2.7" stroke="#b3adc4" stroke-width="1"/>
<text x="497.00" y="319.88" font-family="Liberation Sans, sans-serif" font-size="8" font-weight="bold" fill="#222" text-anchor="end" textLength="14.20" lengthAdjust="spacingAndGlyphs" stroke="#222" stroke-width="0.22">80.0</text>
<path d="M502.7 299.3 h2.7" stroke="#b3adc4" stroke-width="1"/>
<text x="497.00" y="302.20" font-family="Liberation Sans, sans-serif" font-size="8" font-weight="bold" fill="#222" text-anchor="end" textLength="18.50" lengthAdjust="spacingAndGlyphs" stroke="#222" stroke-width="0.22">100.0</text>
<path d="M502.7 281.6 h2.7" stroke="#b3adc4" stroke-width="1"/>
<text x="497.00" y="284.52" font-family="Liberation Sans, sans-serif" font-size="8" font-weight="bold" fill="#222" text-anchor="end" textLength="18.50" lengthAdjust="spacingAndGlyphs" stroke="#222" stroke-width="0.22">120.0</text>
<path d="M562.0 303.2 L567.5 298.09999999999997 Q569.0 298.59999999999997 569.0 300.59999999999997 V376.79999999999995 L562.0 382.4 Z" fill="url(#boxs)"/>
<path d="M536.3 302.2 L541.8 295.2 Q542.8 294.59999999999997 544.8 294.59999999999997 H565.5 Q568.5 294.59999999999997 569.0 298.59999999999997 L563.0 304.2 Z" fill="#a289c7"/>
<path d="M534.8 382.4 V304.7 Q534.8 300.2 539.3 300.2 H559.0 Q563.0 300.2 563.0 304.2 V382.4 Z" fill="url(#boxf)"/>
<text x="547.60" y="294.10" font-family="Liberation Sans, sans-serif" font-size="8" font-weight="bold" fill="#222" text-anchor="middle" stroke="#222" stroke-width="0.22">92.0</text>
<path d="M631.6 278.3 L637.1 273.2 Q638.6 273.7 638.6 275.7 V376.79999999999995 L631.6 382.4 Z" fill="url(#boxs)"/>
<path d="M605.9 277.3 L611.4 270.3 Q612.4 269.7 614.4 269.7 H635.1 Q638.1 269.7 638.6 273.7 L632.6 279.3 Z" fill="#a289c7"/>
<path d="M604.4 382.4 V279.8 Q604.4 275.3 608.9 275.3 H628.6 Q632.6 275.3 632.6 279.3 V382.4 Z" fill="url(#boxf)"/>
<text x="616.90" y="268.80" font-family="Liberation Sans, sans-serif" font-size="8" font-weight="bold" fill="#222" text-anchor="middle" stroke="#222" stroke-width="0.22">120.0</text>
<path d="M700.0 294.6 L705.5 289.5 Q707.0 290.0 707.0 292.0 V376.79999999999995 L700.0 382.4 Z" fill="url(#boxs)"/>
<path d="M674.3 293.6 L679.8 286.6 Q680.8 286.0 682.8 286.0 H703.5 Q706.5 286.0 707.0 290.0 L701.0 295.6 Z" fill="#a289c7"/>
<path d="M672.8 382.4 V296.1 Q672.8 291.6 677.3 291.6 H697.0 Q701.0 291.6 701.0 295.6 V382.4 Z" fill="url(#boxf)"/>
<text x="685.40" y="285.20" font-family="Liberation Sans, sans-serif" font-size="8" font-weight="bold" fill="#222" text-anchor="middle" stroke="#222" stroke-width="0.22">102.0</text>
<text x="540.40" y="401.60" font-family="Liberation Sans, sans-serif" font-size="8.2" font-weight="bold" fill="#222" text-anchor="middle" textLength="49.40" lengthAdjust="spacingAndGlyphs" stroke="#222" stroke-width="0.22">Development</text>
<text x="609.20" y="401.60" font-family="Liberation Sans, sans-serif" font-size="8.2" font-weight="bold" fill="#222" text-anchor="middle" textLength="6.30" lengthAdjust="spacingAndGlyphs" stroke="#222" stroke-width="0.22">IT</text>
<text x="677.70" y="401.60" font-family="Liberation Sans, sans-serif" font-size="8.2" font-weight="bold" fill="#222" text-anchor="middle" textLength="19.80" lengthAdjust="spacingAndGlyphs" stroke="#222" stroke-width="0.22">Sales</text>
<path d="M801.7 263.5 V393" stroke="#8f8f8f" stroke-width="0.9"/>
<rect x="802.1" y="267.2" width="63.2" height="16.9" fill="url(#hbar)"/>
<text x="872.29" y="278.55" font-family="Liberation Sans, sans-serif" font-size="8" font-weight="bold" fill="#222" text-anchor="start" textLength="14.60" lengthAdjust="spacingAndGlyphs" stroke="#222" stroke-width="0.22">29.0</text>
<text x="778.50" y="273.45" font-family="Liberation Sans, sans-serif" font-size="7.4" font-weight="bold" fill="#222" text-anchor="middle" textLength="26.50" lengthAdjust="spacingAndGlyphs" stroke="#222" stroke-width="0.22">Website</text>
<text x="778.50" y="283.05" font-family="Liberation Sans, sans-serif" font-size="7.4" font-weight="bold" fill="#222" text-anchor="middle" textLength="30.00" lengthAdjust="spacingAndGlyphs" stroke="#222" stroke-width="0.22">Redesign</text>
<rect x="802.1" y="293.5" width="196.1" height="16.9" fill="url(#hbar)"/>
<text x="1005.20" y="304.85" font-family="Liberation Sans, sans-serif" font-size="8" font-weight="bold" fill="#222" text-anchor="start" textLength="14.60" lengthAdjust="spacingAndGlyphs" stroke="#222" stroke-width="0.22">90.0</text>
<text x="778.15" y="299.75" font-family="Liberation Sans, sans-serif" font-size="7.4" font-weight="bold" fill="#222" text-anchor="middle" textLength="30.70" lengthAdjust="spacingAndGlyphs" stroke="#222" stroke-width="0.22">Inventory</text>
<text x="778.15" y="309.35" font-family="Liberation Sans, sans-serif" font-size="7.4" font-weight="bold" fill="#222" text-anchor="middle" textLength="25.90" lengthAdjust="spacingAndGlyphs" stroke="#222" stroke-width="0.22">Revamp</text>
<rect x="802.1" y="319.7" width="124.2" height="16.9" fill="url(#hbar)"/>
<text x="933.30" y="331.05" font-family="Liberation Sans, sans-serif" font-size="8" font-weight="bold" fill="#222" text-anchor="start" textLength="14.60" lengthAdjust="spacingAndGlyphs" stroke="#222" stroke-width="0.22">57.0</text>
<text x="793.50" y="330.85" font-family="Liberation Sans, sans-serif" font-size="7.4" font-weight="bold" fill="#222" text-anchor="end" textLength="41.00" lengthAdjust="spacingAndGlyphs" stroke="#222" stroke-width="0.22">HRMS Setup</text>
<rect x="802.1" y="345.9" width="115.5" height="16.9" fill="url(#hbar)"/>
<text x="924.58" y="357.25" font-family="Liberation Sans, sans-serif" font-size="8" font-weight="bold" fill="#222" text-anchor="start" textLength="14.60" lengthAdjust="spacingAndGlyphs" stroke="#222" stroke-width="0.22">53.0</text>
<text x="779.35" y="352.15" font-family="Liberation Sans, sans-serif" font-size="7.4" font-weight="bold" fill="#222" text-anchor="middle" textLength="14.80" lengthAdjust="spacingAndGlyphs" stroke="#222" stroke-width="0.22">CRM</text>
<text x="779.35" y="361.75" font-family="Liberation Sans, sans-serif" font-size="7.4" font-weight="bold" fill="#222" text-anchor="middle" textLength="28.30" lengthAdjust="spacingAndGlyphs" stroke="#222" stroke-width="0.22">Upgrade</text>
<rect x="802.1" y="372.1" width="185.2" height="16.9" fill="url(#hbar)"/>
<text x="994.31" y="383.45" font-family="Liberation Sans, sans-serif" font-size="8" font-weight="bold" fill="#222" text-anchor="start" textLength="14.60" lengthAdjust="spacingAndGlyphs" stroke="#222" stroke-width="0.22">85.0</text>
<text x="793.50" y="383.25" font-family="Liberation Sans, sans-serif" font-size="7.4" font-weight="bold" fill="#222" text-anchor="end" textLength="38.60" lengthAdjust="spacingAndGlyphs" stroke="#222" stroke-width="0.22">App Launch</text>
</svg></body></html>
